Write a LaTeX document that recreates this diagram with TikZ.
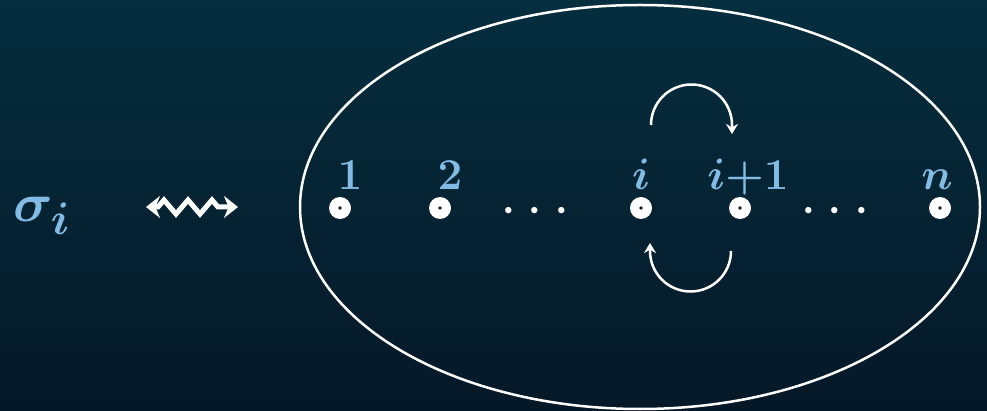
\documentclass[tikz,border=0pt]{standalone}
\usepackage{amsmath}
\usepackage{bm}
\usetikzlibrary{arrows.meta,decorations.pathmorphing}
\definecolor{bgtop}{RGB}{5,46,62}
\definecolor{bgbot}{RGB}{5,24,40}
\definecolor{lab}{RGB}{130,188,228}
\newcommand{\mylbl}[1]{\scalebox{1.77}{\Huge$\bm{#1}$}}
\begin{document}
\begin{tikzpicture}[x=1pt,y=-1pt,
  pt/.style={circle,fill=white,inner sep=0pt,minimum size=22pt},
  lbl/.style={text=lab,inner sep=0pt,anchor=base},
  swap/.style={draw=white,line width=2.5pt,-{Stealth[length=10pt,width=12pt]}},
  dotsx/.style={text=white,inner sep=0pt}]
\shade[top color=bgtop,bottom color=bgbot] (0,0) rectangle (987,411);
\useasboundingbox (0,0) rectangle (987,411);
\node[lbl] (sig) at (42,222) {\scalebox{2.2}{\Huge$\bm{\sigma_i}$}};
\coordinate (wa) at (146,207);
\coordinate (wb) at (238,207);
\draw[white,line width=5pt,{Stealth[length=14pt,width=22pt]}-{Stealth[length=14pt,width=22pt]},
  decorate,decoration={zigzag,amplitude=7pt,segment length=24pt,pre length=12pt,post length=12pt}] (wa) -- (wb);
\draw[white,line width=2.5pt] (640,207) ellipse[x radius=340,y radius=202];
\foreach \n/\x in {p1/340,p2/440,pi/641,pj/740,pn/940}{
  \node[pt] (\n) at (\x,208) {};
  \fill[bgbot] (\n.center) circle[radius=1.8pt];
}
\node[lbl] at (350,190) {\mylbl{1}};
\node[lbl] at (450,190) {\mylbl{2}};
\node[lbl] at (641,190) {\mylbl{i}};
\node[lbl] at (748,190) {\mylbl{i{+}1}};
\node[lbl] at (937,190) {\mylbl{n}};
\node[dotsx] (d1) at (540,212) {\scalebox{2.4}{\Huge$\cdots$}};
\node[dotsx] (d2) at (840,212) {\scalebox{2.4}{\Huge$\cdots$}};
\coordinate (a1) at (651,125);
\coordinate (a2) at (732,134);
\draw[swap] (a1) arc[start angle=180,end angle=360,radius=40.5] -- (a2);
\coordinate (b1) at (731,251);
\coordinate (b2) at (650,243);
\draw[swap] (b1) arc[start angle=0,end angle=180,radius=40.5] -- (b2);
\end{tikzpicture}
\end{document}
